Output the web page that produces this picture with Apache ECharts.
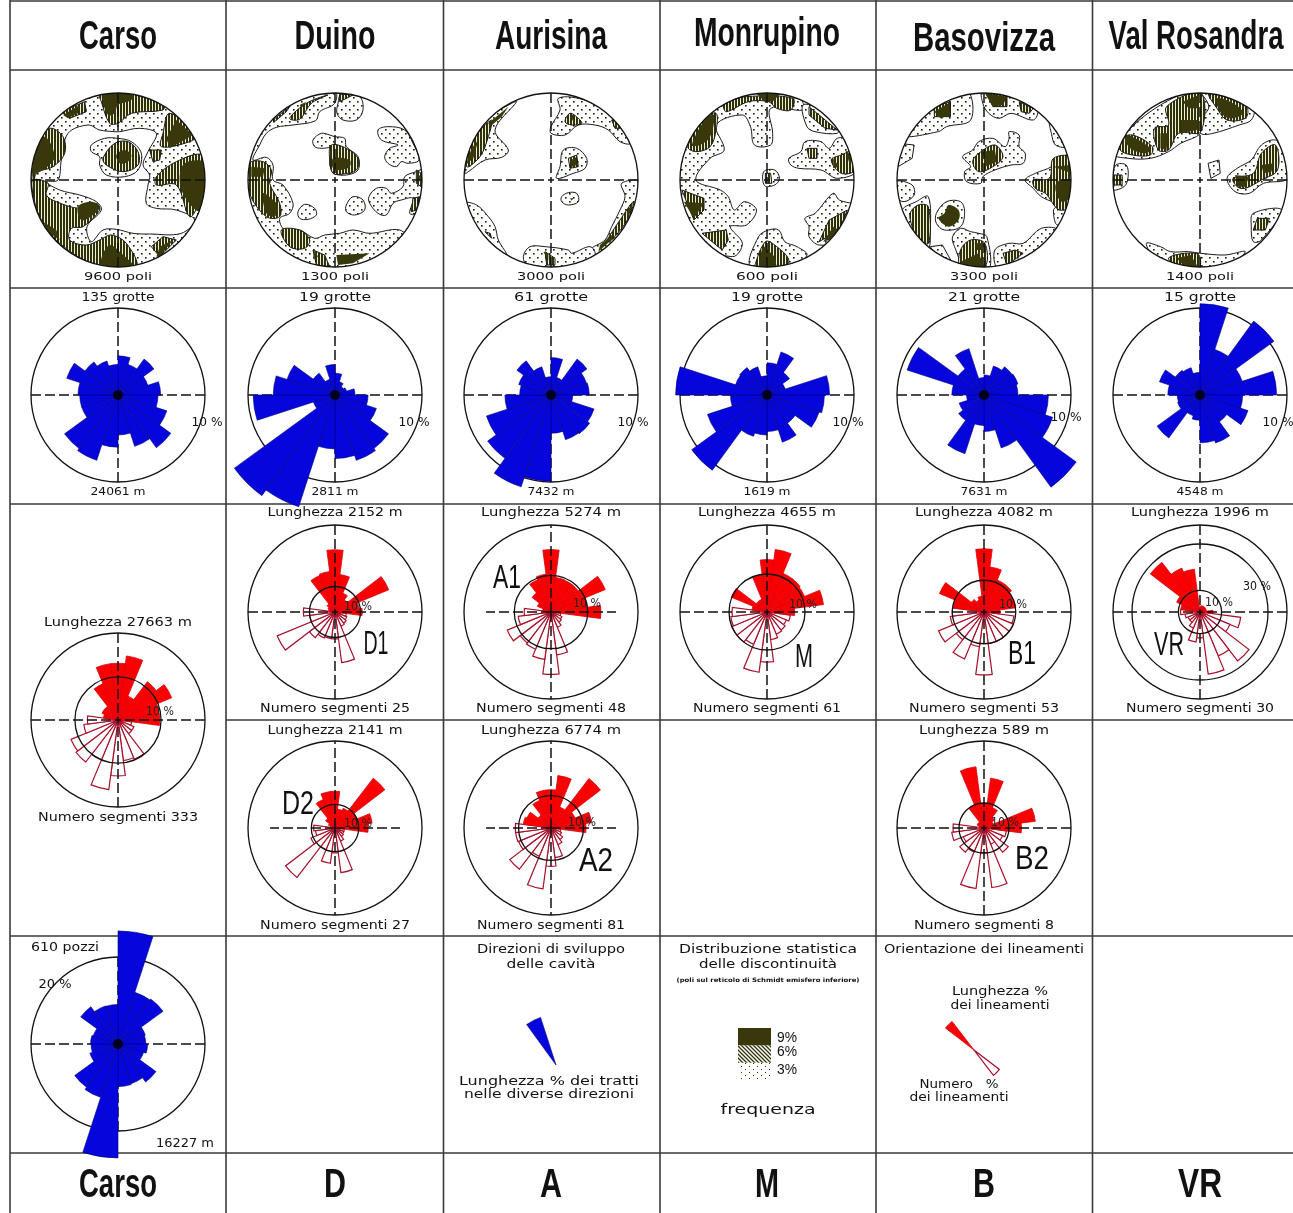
<!DOCTYPE html>
<html><head><meta charset="utf-8">
<style>html,body{margin:0;padding:0;background:#fff}#c{width:1293px;height:1213px}</style>
<script src="https://cdn.jsdelivr.net/npm/echarts@6/dist/echarts.min.js"></script>
</head><body><div id="c"></div>
<script>
/* ===== labels ===== */
const headers=['Carso','Duino','Aurisina','Monrupino','Basovizza','Val Rosandra'];
const footers=['Carso','D','A','M','B','VR'];
const poleCounts=['9600 poli','1300 poli','3000 poli','600 poli','3300 poli','1400 poli'];
const caveCounts=['135 grotte','19 grotte','61 grotte','19 grotte','21 grotte','15 grotte'];
const caveLengths=['24061 m','2811 m','7432 m','1619 m','7631 m','4548 m'];
const blueBearings=[0,18,36,54,72,90,108,126,144,162,180,198,216,234,252,270,288,306,324,342];
const lenBearings=[285,300,315,330,345,0,15,30,45,60,75,90];
const numBearings=[105,120,135,150,165,180,195,210,225,240,255,270];

/* ===== cave directions, % per 18 degree sector from north ===== */
const caveCarso=[4.5,3.7,5.1,3.6,4.9,4.6,5.9,7.5,6.2,4.6,6.0,7.9,7.6,4.4,4.4,4.6,6.2,4.7,4.1,3.5];
const caveDuino=[2.5,1.6,1.2,1.4,2.3,3.8,5.0,7.6,7.9,7.3,6.2,13.5,14.3,2.6,9.4,7.1,5.8,3.1,1.9,3.5];
const caveAurisina=[4.3,2.1,5.1,4.3,4.4,2.5,5.2,5.5,5.4,4.4,9.9,11.1,9,7.8,5.3,3.6,3.9,4.85,3.4,2.1];
const caveMonrupino=[3.7,5.2,3.2,2.2,7.2,6.6,6.3,4.0,5.7,4.2,4.6,5.0,10.7,7.2,4.2,10.5,3.8,3.9,3.4,2.2];
const caveBasovizza=[2.3,3.5,4.0,4.1,3.9,7.4,8.3,13.1,6.4,4.2,3.5,7.1,3.6,3.0,2.0,3.7,9.3,3.7,5.6,2.0];
const caveRosandra=[10.5,5.5,10.5,5.1,8.8,4.9,5.8,3.8,5.8,5.5,2.9,2.5,6.1,2.7,2.6,3.7,4.9,3.5,3.3,2.6];
const shafts=[26,12.5,12.8,6.6,6.4,6.8,6.2,10.8,9.6,9.8,26.2,12.9,12.3,6.8,6.2,6.3,6.0,10.6,9.2,9.1];

/* ===== lineaments: length % (filled) and number % (hollow), 15 degree sectors ===== */
const carsoLen=[3.4,4,4,9.1,13.2,13.2,15,6,11.2,13.5,9.7,9.7];
const carsoNum=[3.2,4,4,9.9,9.5,13,16.3,10,12.3,11.8,8,7.1];
const d1Len=[2.5,3,4,15.5,16,24.4,14.8,8,6,22.8,9.5,10.7];
const d1Num=[4.5,5,5.5,6,20,10.5,10.5,11,12.7,24.5,10,12.4];
const a1Len=[2.3,4,6.5,9.5,10.4,17,9.5,9.4,9.4,16,10,13.6];
const a1Num=[2.7,3.2,3.5,4.5,11.8,17,13,11,10.6,12.9,9,7.3];
const mLen=[4,10.2,3.6,3.6,9.8,13.8,16.6,11,11,10.7,15,7.3];
const mNum=[6.2,5.5,6,6.3,7.3,13.2,16,9.2,10,10,9.6,9.2];
const b1Len=[9.8,15.2,5,4,5,19.9,14.3,10.9,10.9,10,10.1,5];
const b1Num=[9.5,10,10,10,10,19.8,11,16,11,15.5,10.7,10];
const vrLen=[9,11.7,29,22,20,2.3,3,3,3,3,3,6];
const vrNum=[19,15,28.6,22,29,12,14,8,6,6,7,9];
const d2Len=[2,3,5,13,15.5,15.5,8,9,26.5,10,15.8,14];
const d2Num=[4,4,4.5,6,19,10.5,15,9.8,26.3,11,8.3,9];
const a2Len=[8.6,8,5,9.2,11.8,11.8,16.3,7,19.2,8,12.6,10.8];
const a2Num=[3,3.5,4.5,5.5,9.2,11.8,18.9,9.4,16,10.8,11,11];
const b2Len=[2,3,3,10,24.7,10,20.1,8.8,5.3,4,20.7,15];
const b2Num=[9,8,12.2,7,24,10,24.4,10.4,12.2,9,13,12.4];
const legendLen=[null,null,36,null,null,null,null,null,null,null,null,null];
const legendNum=[null,null,32,null,null,null,null,null,null,null,null,null];
const legendCave=[null,null,null,null,null,null,null,null,null,null,null,null,null,null,null,null,null,null,50,null];
const frequencyClasses=[3,3,3];
const frequencyLabels=['9%','6%','3%'];

/* ===== pole density contours, in net units ===== */
const carsoDots=[[[90,60],[620,60],[620,600],[90,600]]];
const carsoBlank=[[[205,190],[265,165],[300,180],[345,185],[360,185],[420,175],[470,190],[445,245],[430,285],[450,315],[445,345],[440,400],[470,415],[530,420],[585,450],[545,490],[450,492],[400,490],[350,478],[310,480],[275,515],[262,470],[305,420],[290,395],[240,375],[180,360],[140,335],[175,330],[185,270]]];
const carsoIsland=[[[275,225],[315,205],[355,205],[395,215],[425,250],[415,300],[375,320],[320,315],[300,285],[300,260],[275,245]]];
const carsoStripes=[[[300,70],[305,95],[330,160],[355,160],[395,130],[490,120],[490,100],[400,70]],[[510,130],[590,195],[570,215],[485,230],[490,190]],[[610,255],[530,275],[470,320],[470,345],[530,345],[570,440],[600,400],[640,330]],[[150,175],[190,200],[195,250],[160,290],[110,310],[100,370],[95,340],[115,225]],[[185,125],[255,95],[260,125],[210,145]],[[100,330],[145,340],[140,375],[170,395],[240,415],[290,400],[300,420],[250,470],[215,475],[210,510],[260,525],[300,510],[335,495],[380,520],[410,590],[300,590],[180,520],[120,440],[100,370]],[[455,530],[490,500],[530,510],[480,560]],[[310,265],[345,220],[385,215],[415,245],[415,285],[370,305],[320,285]],[[450,240],[485,240],[480,270],[460,275]]];
const carsoSolid=[[[310,70],[400,70],[395,90],[355,105],[345,130],[325,135]],[[190,135],[240,105],[235,130],[205,145]],[[530,150],[580,195],[510,235],[500,205]],[[555,280],[620,280],[620,380],[600,425],[555,380],[540,330]],[[135,200],[165,260],[130,300],[100,310],[105,260]],[[235,410],[275,395],[300,410],[280,435],[245,450]],[[130,455],[170,480],[180,510],[150,490]],[[330,525],[365,550],[400,590],[310,590],[305,565]],[[480,530],[520,510],[480,560],[470,560]],[[350,255],[375,240],[395,255],[385,275],[360,280]]];

const duinoDots=[[[1005,60],[1005,100],[960,125],[948,152],[880,165],[830,172],[800,190],[780,225],[760,270],[800,262],[820,285],[820,330],[850,345],[880,400],[870,430],[840,445],[855,480],[900,480],[945,505],[975,495],[1020,490],[1060,480],[1110,490],[1200,480],[1230,520],[1100,620],[800,620],[700,400],[700,200],[900,40]],[[1015,100],[1025,72],[1080,80],[1090,120],[1070,150],[1030,150],[1012,130]],[[940,210],[965,190],[990,195],[1005,200],[1035,205],[1040,230],[1075,260],[1075,300],[1040,315],[1005,310],[990,280],[1000,235],[965,235],[945,230]],[[1135,180],[1165,170],[1215,180],[1240,220],[1258,270],[1225,280],[1205,275],[1190,290],[1165,280],[1155,260],[1170,235],[1195,225],[1145,210]],[[1108,380],[1130,355],[1160,355],[1175,370],[1210,350],[1215,320],[1250,305],[1270,300],[1270,400],[1250,430],[1230,430],[1240,385],[1205,390],[1180,400],[1160,435],[1135,430],[1110,400]],[[1040,405],[1060,380],[1090,390],[1095,420],[1065,435],[1040,425]],[[895,425],[915,403],[945,415],[950,435],[925,448],[900,445]]];
const duinoStripes=[[[870,145],[920,100],[985,75],[935,100],[900,148]],[[820,150],[870,110],[860,125],[825,155]],[[750,280],[790,275],[815,300],[810,340],[840,400],[840,440],[800,440],[750,370]],[[995,225],[1040,235],[1075,265],[1070,300],[1030,312],[1000,310],[990,270]],[[845,480],[900,480],[930,510],[915,535],[870,530]],[[940,540],[975,555],[990,590],[950,585]],[[1020,72],[1060,75],[1020,95]],[[1250,300],[1265,310],[1265,350],[1250,340]],[[1240,385],[1260,380],[1250,420],[1235,425]]];
const duinoSolid=[[[755,290],[795,295],[790,320],[755,320]],[[1000,265],[1050,270],[1050,290],[1020,300],[1000,295]],[[790,370],[815,385],[835,410],[825,440],[800,430]],[[1010,555],[1110,550],[1060,580],[1015,585]],[[945,540],[955,560],[940,565]],[[900,105],[920,95],[905,115]],[[1255,315],[1270,320],[1265,350]]];

const aurisinaDots=[[[60,310],[65,260],[100,180],[150,130],[200,100],[215,95],[150,180],[190,240],[170,262],[120,270],[70,305]],[[340,85],[400,85],[470,115],[530,165],[555,220],[525,215],[490,180],[450,165],[400,165],[360,195],[318,190],[318,170],[345,120]],[[345,290],[355,240],[395,235],[425,265],[420,295],[385,310],[335,325]],[[350,380],[370,368],[395,370],[400,395],[370,405],[350,395]],[[530,340],[590,335],[590,400],[530,490],[450,565],[435,540],[480,510],[500,470],[525,420],[540,380]],[[60,400],[95,405],[130,440],[150,470],[160,510],[185,555],[130,520],[75,450]],[[235,560],[255,530],[300,530],[370,540],[380,550],[435,530],[450,555],[400,600],[320,600],[250,590]]];
const aurisinaStripes=[[[65,290],[85,210],[140,150],[130,200],[105,260]],[[360,155],[375,130],[400,145],[410,160],[380,165]],[[500,150],[515,145],[525,175],[510,175]],[[370,265],[395,255],[400,290],[375,295]],[[300,545],[330,565],[330,585],[305,585]],[[485,515],[525,450],[565,395],[550,445],[500,510]],[[120,485],[135,490],[140,505]]];
const aurisinaSolid=[[[62,285],[80,235],[100,210],[85,265]],[[130,160],[190,110],[170,140],[135,170]],[[545,425],[565,395],[550,445]],[[465,525],[500,495],[505,505],[460,545]],[[378,270],[393,262],[395,285],[380,290]],[[295,545],[310,550],[310,570]],[[375,135],[385,135],[385,155]],[[375,385],[385,385],[380,392]]];

const monrupinoDots=[[[150,100],[200,80],[270,60],[350,90],[355,120],[275,115],[280,190],[275,225],[235,225],[225,170],[205,135],[140,165],[160,240],[125,265],[90,330],[150,360],[170,380],[185,420],[210,395],[240,420],[215,465],[175,470],[205,520],[180,560],[40,500],[30,330],[30,200],[100,110]],[[355,105],[365,170],[385,185],[440,190],[440,170],[400,120]],[[320,265],[350,245],[360,215],[400,215],[420,235],[440,205],[470,210],[490,300],[440,325],[400,300],[345,295],[325,285]],[[258,305],[285,300],[297,325],[285,345],[260,347]],[[225,590],[245,500],[270,480],[295,480],[310,515],[340,530],[365,555],[320,600]],[[360,445],[385,430],[430,370],[445,390],[485,410],[440,510],[395,525],[370,500],[370,470]]];
const monrupinoStripes=[[[160,100],[215,80],[330,85],[325,120],[290,115],[270,95],[220,95],[165,125]],[[370,110],[440,180],[410,175],[370,135]],[[70,230],[110,145],[140,130],[140,180],[125,230],[90,245]],[[55,360],[110,385],[110,420],[85,450]],[[105,490],[165,480],[170,510],[155,540]],[[235,590],[262,515],[285,525],[320,570],[300,600],[240,600]],[[395,515],[420,450],[465,420],[445,480]],[[365,235],[390,235],[390,265],[370,265]],[[425,270],[450,255],[485,240],[485,300],[450,310]],[[262,310],[275,310],[278,340],[262,340]]];
const monrupinoSolid=[[[240,70],[300,70],[280,95],[260,95]],[[80,225],[115,145],[135,135],[125,200],[100,225]],[[60,395],[110,400],[85,445]],[[245,590],[255,525],[285,560],[290,590]],[[405,515],[430,470],[445,480],[420,510]],[[460,240],[485,265],[470,280]],[[430,265],[445,290],[430,295]]];

const basovizzaDots=[[[600,195],[640,110],[720,80],[765,65],[770,150],[710,170],[690,185]],[[800,60],[880,75],[935,120],[925,150],[870,130],[840,145],[815,130],[800,100]],[[590,220],[630,225],[625,265],[590,290]],[[585,335],[625,345],[630,375],[605,395],[585,380]],[[750,260],[775,240],[790,215],[825,205],[855,230],[865,205],[865,185],[890,195],[890,230],[905,250],[900,280],[870,285],[830,300],[800,320],[795,340],[760,335],[755,305],[770,290]],[[905,330],[930,310],[970,290],[985,265],[1025,260],[1025,420],[985,465],[975,420],[985,405],[945,380],[925,355]],[[965,155],[985,190],[1010,230],[980,225],[970,190]],[[685,430],[710,395],[745,395],[755,425],[745,470],[705,480],[685,460]],[[600,420],[635,395],[665,380],[670,490],[665,535],[640,515],[600,470]],[[725,500],[745,475],[770,485],[790,490],[810,500],[815,600],[760,600],[730,530]],[[670,530],[700,525],[725,580],[690,565]],[[830,540],[865,520],[900,520],[945,475],[985,480],[940,540],[860,590],[835,595]]];
const basovizzaStripes=[[[680,110],[720,95],[720,140],[680,140]],[[810,70],[860,75],[860,110],[825,110]],[[890,95],[925,115],[915,130],[895,125]],[[790,250],[830,225],[850,260],[825,290],[790,305],[775,275]],[[925,330],[965,325],[975,265],[1025,265],[1025,400],[990,420],[955,370],[930,355]],[[620,430],[640,405],[665,410],[665,520],[635,500],[625,470]],[[745,540],[770,510],[805,520],[805,590],[745,590]],[[850,550],[880,540],[900,550],[860,585]]];
const basovizzaSolid=[[[680,125],[715,100],[720,135],[695,145]],[[805,70],[860,80],[850,105],[825,110]],[[715,405],[740,420],[740,450],[715,470],[690,445],[705,430]],[[800,245],[830,240],[835,275],[805,290]],[[985,335],[1025,330],[1020,380],[995,395],[980,360]],[[745,575],[790,550],[805,595],[760,595]],[[780,520],[805,520],[800,540],[785,540]],[[975,290],[1020,285],[1020,310]]];

const rosandraDots=[[[1120,250],[1170,170],[1240,105],[1310,65],[1340,65],[1360,110],[1345,150],[1340,190],[1290,220],[1260,245],[1215,265],[1160,265]],[[1340,60],[1400,70],[1470,115],[1465,150],[1435,165],[1370,190],[1340,190],[1340,150],[1360,110]],[[1115,330],[1130,285],[1155,285],[1160,320],[1150,350],[1115,360]],[[1358,280],[1385,270],[1388,310],[1365,325]],[[1405,325],[1430,295],[1465,270],[1490,225],[1525,210],[1555,240],[1555,325],[1495,340],[1460,370],[1425,365]],[[1465,470],[1470,430],[1540,420],[1490,510],[1470,515]],[[1205,520],[1240,530],[1265,545],[1310,545],[1340,550],[1400,555],[1450,545],[1400,595],[1340,600],[1270,595],[1230,570]]];
const rosandraStripes=[[[1140,210],[1170,195],[1220,230],[1215,255],[1170,255],[1140,240]],[[1255,110],[1340,70],[1340,185],[1285,190],[1260,240],[1235,240],[1225,175],[1260,165]],[[1360,70],[1420,90],[1455,115],[1450,145],[1405,150],[1380,115]],[[1420,325],[1470,310],[1490,250],[1525,225],[1530,300],[1490,330],[1450,355],[1430,350]],[[1470,480],[1480,445],[1510,445],[1500,480]],[[1260,565],[1300,550],[1335,555],[1335,595],[1290,590]],[[1120,315],[1145,315],[1145,345],[1120,345]]];
const rosandraSolid=[[[1150,195],[1170,200],[1215,235],[1205,250],[1165,235]],[[1240,190],[1260,190],[1255,240],[1240,235]],[[1295,95],[1335,75],[1335,115],[1310,115]],[[1290,150],[1335,150],[1330,180],[1290,190]],[[1380,85],[1420,100],[1445,130],[1410,145],[1385,120]],[[1425,315],[1460,320],[1450,350],[1430,350]],[[1490,285],[1520,280],[1515,305],[1495,310]],[[1280,565],[1315,555],[1335,595],[1300,590]]];

/* ===== layout and style ===== */
const W=1293,H=1213,R=87;
const colX=[118,335,551,767,984,1200];
const BLUE='#0606dc',BLUE_EDGE='#00007c',RED='#fb0000',RED_EDGE='#a8102a',INK='#111',RULE='#3a3a3a',OLIVE='#38380a';
const TXT='"DejaVu Sans",sans-serif';
const measure=document.createElement('canvas').getContext('2d');

function makePattern(w,h,draw){const c=document.createElement('canvas');c.width=w;c.height=h;const g=c.getContext('2d');g.fillStyle='#fff';g.fillRect(0,0,w,h);draw(g);return {image:c,repeat:'repeat'};}
const dotsFill=makePattern(8,8,g=>{g.fillStyle='#1e1e04';g.fillRect(1,1,1.6,1.6);g.fillRect(5,5,1.6,1.6);});
const stripeFill=makePattern(3,2,g=>{g.fillStyle='#30300a';g.fillRect(0,0,2,2);g.fillStyle='#f0f0d4';g.fillRect(2,0,1,2);});
const hatchFill=makePattern(4,4,g=>{g.strokeStyle='#33330a';g.lineWidth=1.3;g.beginPath();g.moveTo(-1,-1);g.lineTo(5,5);g.moveTo(-1,3);g.lineTo(1,5);g.moveTo(3,-1);g.lineTo(5,1);g.stroke();});
const sparseFill=makePattern(8,6,g=>{g.fillStyle='#33330a';g.fillRect(1,1,1,1);g.fillRect(5,4,1,1);});

const opt={animation:false,backgroundColor:'#fff',polar:[],angleAxis:[],radiusAxis:[],grid:[],xAxis:[],yAxis:[],series:[],graphic:{elements:[]}};
const els=opt.graphic.elements;

function rule(x1,y1,x2,y2){els.push({type:'line',silent:true,z:0,shape:{x1,y1,x2,y2},style:{stroke:RULE,lineWidth:1.6}});}
function text(t,x,y,w,size,extra){
  const e=Object.assign({family:TXT,weight:'normal',color:'#111'},extra||{});
  const font=e.weight+' '+size+'px '+e.family;
  measure.font=font;
  const sx=w?w/measure.measureText(t).width:1;
  els.push({type:'text',silent:true,z:30,x,y,scaleX:sx,style:{text:t,font,fill:e.color,align:'center',verticalAlign:'middle'}});
}

function framePolar(cx,cy,outer,inner,z,withDot,eastWest){
  const i=opt.polar.length;
  const dash={color:INK,width:1.5,type:[10,4]};
  opt.polar.push({center:[cx,cy],radius:R});
  opt.angleAxis.push({polarIndex:i,type:'value',min:0,max:360,interval:90,startAngle:90,z,
    axisLine:{show:true,lineStyle:{color:INK,width:1.3}},axisTick:{show:false},axisLabel:{show:false},
    splitLine:{show:!eastWest,lineStyle:dash}});
  opt.radiusAxis.push({polarIndex:i,type:'value',min:0,max:outer,z,
    axisLine:{show:false},axisLabel:{show:false},
    axisTick:{show:false,customValues:inner&&inner.length?inner:undefined},
    splitLine:{show:!!(inner&&inner.length),lineStyle:{color:INK,width:1.3}}});
  if(eastWest){
    [[0,outer],[90,eastWest],[180,outer],[270,eastWest]].forEach(a=>opt.series.push({type:'line',coordinateSystem:'polar',polarIndex:i,silent:true,z:6,clip:false,symbol:'none',lineStyle:dash,data:[[0,a[0]],[a[1],a[0]]]}));
  }
  if(withDot) opt.series.push({type:'scatter',coordinateSystem:'polar',polarIndex:i,silent:true,z:4,symbol:'circle',symbolSize:10,itemStyle:{color:'#000'},data:[[0,0]]});
}
function barPolar(cx,cy,radius,outer,bins,start){
  const i=opt.polar.length;
  opt.polar.push({center:[cx,cy],radius});
  opt.angleAxis.push({polarIndex:i,type:'category',data:bins.map(String),startAngle:start,show:false});
  opt.radiusAxis.push({polarIndex:i,type:'value',min:0,max:outer,show:false});
  return i;
}
const bar=(i,name,data,style)=>({type:'bar',name,coordinateSystem:'polar',polarIndex:i,data,silent:true,clip:false,z:2,
  barGap:'-100%',barCategoryGap:'0%',itemStyle:style});
const blueStyle={color:BLUE,borderColor:BLUE_EDGE,borderWidth:0.6};
const redStyle={color:RED,borderColor:'#d80010',borderWidth:0.8};
const hollowStyle={color:'#fff',borderColor:RED_EDGE,borderWidth:1.2};

function blueRose(cx,cy,values,outer){
  framePolar(cx,cy,outer,null,1,true);
  const i=barPolar(cx,cy,R,outer,blueBearings,90);
  opt.series.push(bar(i,'Lunghezza',values,blueStyle));
}
const bins24=[];for(let b=0;b<360;b+=15)bins24.push(b);
function place(bearings,vals){const a=bins24.map(()=>null);bearings.forEach((b,k)=>{a[b/15]=vals[k];});return a;}
function redRose(cx,cy,len,num,outer,inner,eastWest){
  framePolar(cx,cy,outer,inner,6,false,eastWest);
  const i=barPolar(cx,cy,R,outer,bins24,97.5);
  opt.series.push(bar(i,'Numero',place(numBearings,num),hollowStyle));
  opt.series.push(bar(i,'Lunghezza',place(lenBearings,len),redStyle));
}

/* stereonets */
function net(cx,cy,c0,rx,ry,layers){
  const g=opt.grid.length;
  opt.grid.push({left:cx-R,top:cy-R,width:2*R,height:2*R,containLabel:false,show:false});
  opt.xAxis.push({gridIndex:g,type:'value',min:c0[0]-rx,max:c0[0]+rx,show:false,scale:true});
  opt.yAxis.push({gridIndex:g,type:'value',min:c0[1]-ry,max:c0[1]+ry,show:false,inverse:true,scale:true});
  layers.forEach(([polys,fill,line,z])=>{
    opt.series.push({type:'custom',xAxisIndex:g,yAxisIndex:g,silent:true,z,clip:false,
      encode:{x:0,y:1},
      data:polys.map((p,k)=>[p[0][0],p[0][1],k]),
      renderItem:(params,api)=>{
        const pts=polys[api.value(2)].map(p=>api.coord(p));
        return {type:'polygon',shape:{points:pts,smooth:polys[api.value(2)].length>4?0.35:0},style:{fill,stroke:line?'#1a1a1a':null,lineWidth:line?1:0},
          clipPath:{type:'circle',shape:{cx,cy,r:R}}};
      }});
  });
  framePolar(cx,cy,1,null,6,false);
}
const layer=(dots,blank,stripes,solid)=>[[dots,dotsFill,true,1]].concat(blank?[[blank,'#fff',true,1.5],[carsoIsland,dotsFill,true,1.6]]:[]).concat([[stripes,stripeFill,true,1.8],[solid,OLIVE,false,2]]);

net(colX[0],180,[355,330],261,261,layer(carsoDots,carsoBlank,carsoStripes,carsoSolid));
net(colX[1],180,[1006,330],261,261,layer(duinoDots,null,duinoStripes,duinoSolid));
net(colX[2],180,[318,330],261,261,layer(aurisinaDots,null,aurisinaStripes,aurisinaSolid));
net(colX[3],180,[266,330],215.5,261,layer(monrupinoDots,null,monrupinoStripes,monrupinoSolid));
net(colX[4],180,[803,330],215.5,261,layer(basovizzaDots,null,basovizzaStripes,basovizzaSolid));
net(colX[5],180,[1338,330],215.5,261,layer(rosandraDots,null,rosandraStripes,rosandraSolid));

/* cave roses */
[caveCarso,caveDuino,caveAurisina,caveMonrupino,caveBasovizza,caveRosandra].forEach((v,k)=>blueRose(colX[k],395,v,10));
blueRose(colX[0],1044,shafts,20);

/* lineament roses: outer circle value follows each panel's own 10 % ring */
redRose(118,720,carsoLen,carsoNum,20.2,[10]);
redRose(335,612,d1Len,d1Num,34.1,[10]);
redRose(551,612,a1Len,a1Num,23.7,[10],17.7);
redRose(767,612,mLen,mNum,22.9,[10]);
redRose(984,612,b1Len,b1Num,27.4,[10]);
redRose(1200,612,vrLen,vrNum,40.3,[10,31.5]);
redRose(335,828,d2Len,d2Num,36.7,[10],27.4);
redRose(551,828,a2Len,a2Num,26.8,[10],20);
redRose(984,828,b2Len,b2Num,34.8,[10]);

/* legend wedges */
{const i=barPolar(556,1065,50,50,blueBearings,90);opt.series.push(bar(i,'Lunghezza %',legendCave,blueStyle));}
{const i=barPolar(974,1050,36,36,bins24,97.5);
 opt.series.push(bar(i,'Numero %',place(numBearings,legendNum),hollowStyle));
 opt.series.push(bar(i,'Lunghezza %',place(lenBearings,legendLen),redStyle));}

/* frequency swatch */
{const g=opt.grid.length;
 opt.grid.push({left:738,top:1028,width:33,height:52,show:false});
 opt.xAxis.push({gridIndex:g,type:'category',data:['frequenza'],show:false});
 opt.yAxis.push({gridIndex:g,type:'value',min:0,max:9,show:false});
 [sparseFill,hatchFill,OLIVE].forEach((fill,k)=>opt.series.push({type:'bar',name:frequencyLabels[2-k],xAxisIndex:g,yAxisIndex:g,stack:'f',barWidth:'100%',silent:true,z:2,data:[frequencyClasses[k]],itemStyle:{color:fill}}));
}

/* table rules */
[10,226,443.5,660,876,1092.5].forEach(x=>rule(x,0,x,H));
[1,70,288,504,936,1153].forEach(y=>rule(10,y,W,y));
rule(226,720,W,720);

/* text */
const HF='"Liberation Sans",sans-serif';
[78,81,112,146,142,175].forEach((w,k)=>text(headers[k],k==5?1196:colX[k],k==3?35:(k==4?40:38),w,40,{family:HF,weight:'bold'}));
[78,22,22,24,22,44].forEach((w,k)=>text(footers[k],colX[k],1186,w,40,{family:HF,weight:'bold'}));
const pw=[68,68,68,62,68,68],lw=[55,47,47,47,47,47];
colX.forEach((x,k)=>{
  text(poleCounts[k],x,277,pw[k],11);
  text(caveCounts[k],x,298,k==0?73:(k==2?74:72),12);
  text(caveLengths[k],x,492,lw[k],11);
});
[[207,423],[414,423],[633,423],[848,423],[1066,418],[1278,423]].forEach(p=>text('10 %',p[0],p[1],31,12));
const L='Lunghezza ',N='Numero segmenti ';
[[118,623,'27663 m',148],[335,513,'2152 m',135],[551,513,'5274 m',140],[767,513,'4655 m',138],[984,513,'4082 m',138],[1200,513,'1996 m',138],[335,731,'2141 m',135],[551,731,'6774 m',140],[984,731,'589 m',130]].forEach(a=>text(L+a[2],a[0],a[1],a[3],12));
[[118,818,'333',160],[335,709,'25',150],[551,709,'48',150],[767,709,'61',148],[984,709,'53',150],[1200,709,'30',148],[335,926,'27',150],[551,926,'81',148],[984,926,'8',140]].forEach(a=>text(N+a[2],a[0],a[1],a[3],12));
[[358,607],[587,604],[803,605],[1013,605],[1219,603],[160,712],[358,824],[582,823],[1005,823]].forEach(p=>text('10 %',p[0],p[1],28,12,{color:'#222'}));
text('30 %',1257,587,28,12);
[['D1',376,645,25],['A1',507,579,28],['M',804,658,18],['B1',1022,655,28],['VR',1169,646,30],['D2',298,805,32],['A2',596,862,34],['B2',1032,860,34]].forEach(a=>text(a[0],a[1],a[2],a[3],34,{family:HF}));
text('610 pozzi',65,948,68,12);text('20 %',55,985,33,12);text('16227 m',185,1144,58,12);
text('Direzioni di sviluppo',551,950,148,12);text('delle cavità',551,965,89,12);
text('Lunghezza % dei tratti',549,1082,180,12);text('nelle diverse direzioni',549,1095,170,12);
text('Distribuzione statistica',768,950,178,12);text('delle discontinuità',768,965,138,12);
text('(poli sul reticolo di Schmidt emisfero inferiore)',768,980,183,6,{weight:'bold'});
text(frequencyLabels[0],787,1038,20,14,{family:HF});text(frequencyLabels[1],787,1052,20,14,{family:HF});text(frequencyLabels[2],787,1070,20,14,{family:HF});
text('frequenza',768,1110,95,14);
text('Orientazione dei lineamenti',984,950,200,12);
text('Lunghezza %',1000,992,96,12);text('dei lineamenti',1000,1006,99,12);
text('Numero   %',959,1085,79,12);text('dei lineamenti',959,1098,99,12);

const chart=echarts.init(document.getElementById('c'),null,{renderer:'canvas',width:W,height:H});
chart.setOption(opt);
</script></body></html>
